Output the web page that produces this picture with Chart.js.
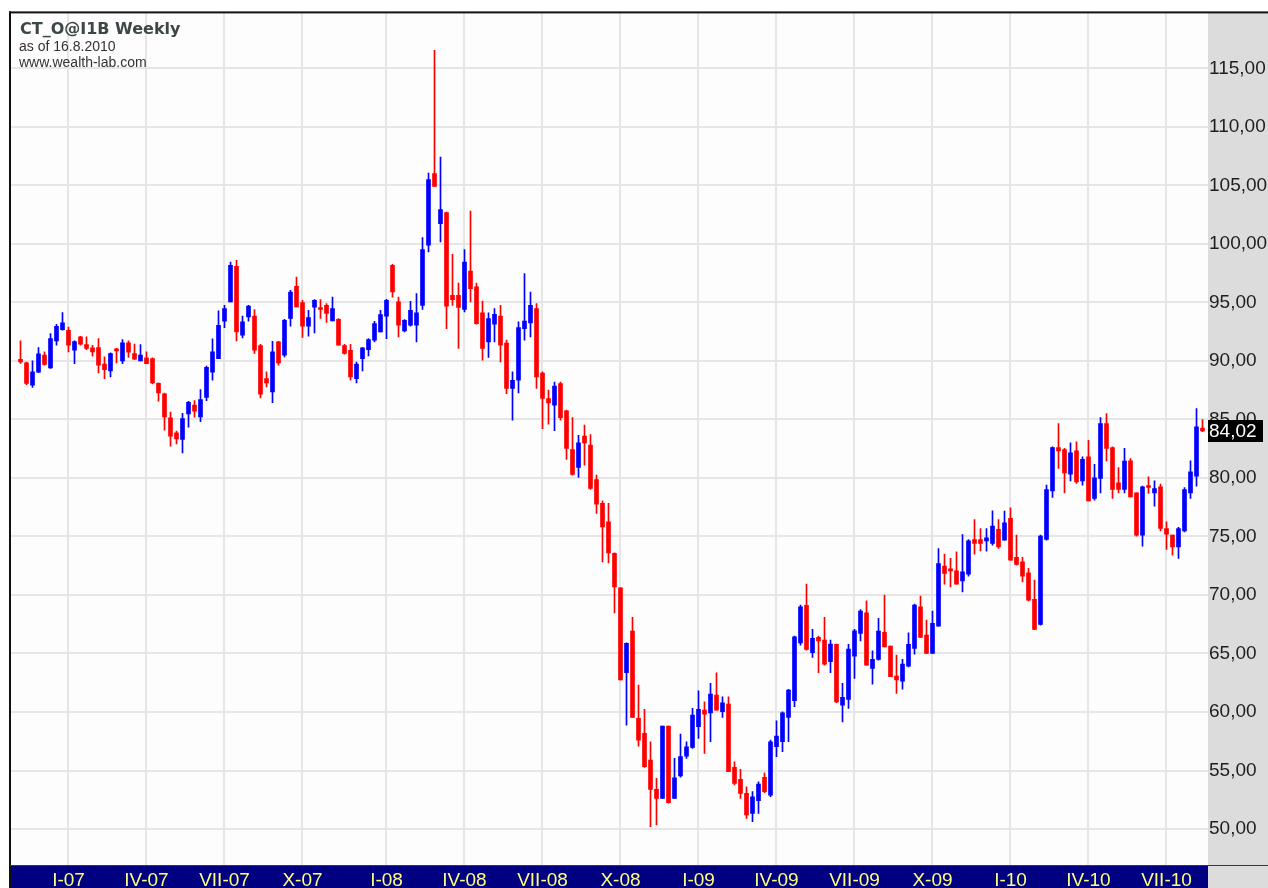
<!DOCTYPE html>
<html>
<head>
<meta charset="utf-8">
<title>CT_O@I1B Weekly</title>
<script src="https://cdn.jsdelivr.net/npm/chart.js@4.4.1/dist/chart.umd.min.js"></script>
<style>
  html, body { margin: 0; padding: 0; background: #ffffff; overflow: hidden; }
  #wrap { width: 1268px; height: 888px; }
</style>
</head>
<body>
<div id="wrap"><canvas id="c" width="1268" height="888"></canvas></div>
<script>
// ---- Data (weekly bars, first bar = week of 6.11.2006, last = week of 16.8.2010) ----
const firstWeek = '2006-11-06';
const open = [
  90.14,89.83,87.92,89.03,90.49,89.40,91.71,92.68,92.62,90.91,
  92.05,91.40,91.11,91.14,89.72,89.15,91.03,90.00,91.54,90.63,
  90.00,90.26,90.20,88.09,87.18,85.14,83.86,83.29,85.48,86.22,
  85.22,86.89,89.03,90.20,93.39,95.04,98.08,92.19,93.76,93.82,
  91.31,88.49,87.35,91.62,90.48,93.62,96.38,94.99,92.96,94.60,
  94.50,94.75,93.41,93.56,91.31,90.91,88.49,90.20,90.97,91.77,
  92.47,93.82,98.17,95.04,92.56,93.05,93.05,94.75,99.88,106.00,
  101.73,102.67,95.61,95.61,94.39,97.68,96.32,94.10,91.62,93.13,
  93.82,91.53,87.64,88.35,92.76,93.24,94.47,88.97,86.79,86.21,
  88.07,85.73,82.43,80.89,83.57,82.80,79.87,77.82,76.25,73.55,
  70.61,63.35,66.91,59.45,58.17,55.89,53.39,52.62,58.80,52.62,
  54.53,56.23,56.98,58.74,60.16,59.93,61.44,60.02,60.68,55.27,
  54.24,53.05,51.34,52.42,54.42,52.90,57.03,57.46,59.54,60.96,
  65.91,69.11,65.06,66.37,66.14,64.29,65.78,60.59,61.08,64.78,
  66.71,68.47,63.73,64.49,66.80,65.63,63.06,62.64,63.92,65.43,
  68.99,66.57,65.01,67.34,72.46,72.23,72.06,71.21,71.78,74.74,
  74.74,74.62,74.40,75.60,74.68,76.54,73.21,72.83,71.89,69.62,
  67.48,74.74,78.89,82.60,82.43,80.32,82.31,79.75,81.80,78.25,
  79.95,84.65,82.60,79.58,79.01,81.46,78.72,75.11,79.30,78.72,
  79.24,75.68,75.11,74.11,75.48,78.72,80.15,84.25
];
const high = [
  91.71,89.90,90.00,91.14,90.77,92.34,93.13,94.13,92.90,91.71,
  92.11,92.05,91.34,91.91,90.35,90.69,91.08,91.83,91.71,91.43,
  91.40,90.77,90.26,88.12,87.26,85.62,84.00,85.51,86.55,86.61,
  87.55,89.55,91.88,94.27,94.75,98.45,98.60,93.82,94.75,94.39,
  91.42,89.06,91.68,91.68,93.56,96.04,97.17,95.18,94.33,95.24,
  95.24,94.90,95.46,93.62,91.42,91.42,89.91,91.14,91.91,93.39,
  94.33,95.27,98.25,95.45,93.53,95.10,95.75,100.54,106.05,116.53,
  107.42,102.72,99.11,96.66,99.51,102.81,96.66,95.12,94.10,94.47,
  94.75,91.77,89.06,93.33,97.46,95.89,94.90,89.06,87.50,88.20,
  88.20,85.79,85.16,83.65,84.51,83.71,80.24,78.04,77.82,73.60,
  70.64,65.91,68.08,62.30,60.22,57.46,54.33,58.80,58.80,56.04,
  58.11,57.46,60.31,61.81,60.87,62.44,63.35,61.30,61.30,55.75,
  55.10,53.61,53.19,54.04,54.81,57.60,59.25,60.02,61.93,66.48,
  69.13,70.93,67.06,66.48,68.08,66.14,65.80,62.44,65.78,67.06,
  68.76,69.50,65.23,68.00,70.00,65.63,64.86,64.49,66.77,69.22,
  69.90,67.85,68.62,73.97,73.49,73.12,73.68,75.17,74.74,76.45,
  75.68,75.68,77.19,76.45,77.16,77.44,75.11,73.21,72.27,71.27,
  75.11,79.38,82.65,84.65,82.52,82.99,83.08,81.80,83.22,81.17,
  85.16,85.50,82.65,80.89,82.52,81.66,78.72,79.30,80.09,79.75,
  79.47,76.25,75.11,75.77,79.18,81.46,85.93,84.99
];
const low = [
  89.78,87.98,87.73,89.00,89.63,89.35,91.34,92.62,90.77,89.77,
  91.34,90.97,90.40,88.97,88.49,88.63,89.83,89.77,90.29,90.12,
  90.00,89.77,88.03,86.55,84.08,82.71,82.91,82.13,84.33,85.20,
  84.80,86.61,88.35,90.20,92.85,95.04,91.71,91.96,93.39,90.63,
  86.84,87.78,86.44,89.63,90.34,92.96,94.61,92.00,92.11,92.39,
  93.62,93.28,93.41,91.34,90.57,88.35,88.12,89.14,90.42,91.62,
  92.47,91.91,95.45,92.05,92.47,92.96,91.62,94.39,99.31,104.92,
  100.16,92.76,94.75,91.06,94.18,95.04,93.13,90.06,90.29,91.62,
  89.91,87.21,84.93,87.26,91.77,92.05,87.64,84.22,84.60,84.04,
  84.93,81.58,80.24,80.04,81.09,79.01,76.96,72.83,72.74,68.47,
  62.73,58.88,59.54,57.09,55.27,50.20,50.34,52.62,52.20,52.62,
  54.42,56.04,56.89,57.75,56.47,57.46,60.16,59.54,54.89,53.76,
  52.62,50.91,50.62,51.34,53.10,52.76,56.18,56.60,57.46,60.45,
  65.72,65.29,64.66,63.35,64.01,63.35,60.79,59.16,60.31,62.87,
  66.08,64.01,62.38,64.43,65.57,63.01,61.59,61.96,63.86,64.95,
  66.37,65.01,65.01,67.34,70.93,70.69,70.93,70.27,71.61,73.49,
  73.77,73.74,74.26,73.97,74.68,72.98,72.55,71.12,69.50,67.06,
  67.42,74.68,78.33,80.81,78.72,79.75,79.53,79.38,78.04,78.10,
  78.72,81.46,78.25,78.72,78.72,78.38,75.03,74.17,78.67,77.59,
  75.48,73.89,73.40,73.12,75.39,78.25,79.30,83.95
];
const close = [
  89.91,88.07,89.06,90.60,89.69,91.91,92.96,93.25,91.34,91.66,
  91.43,91.06,90.77,89.63,89.26,90.63,90.86,91.54,90.74,90.14,
  90.49,89.77,88.12,87.26,85.22,83.57,83.34,85.08,86.47,85.71,
  86.69,89.46,90.77,93.05,94.47,98.17,92.47,93.33,94.69,90.91,
  87.15,88.12,90.77,89.83,93.47,95.89,94.61,92.96,93.70,95.18,
  94.39,94.05,94.47,91.34,90.63,88.63,89.72,91.11,91.83,93.19,
  93.96,95.18,95.89,93.05,93.47,94.33,94.10,99.51,105.49,104.92,
  102.93,94.67,95.24,94.56,98.45,96.18,93.19,91.06,93.62,93.99,
  91.34,87.64,88.35,92.85,93.41,94.75,88.63,86.79,86.41,87.84,
  85.16,82.52,80.29,83.00,83.00,79.10,77.76,75.82,73.60,70.69,
  62.73,65.86,59.54,57.60,55.32,53.39,52.62,58.80,52.25,54.38,
  56.18,57.03,59.74,60.22,59.82,61.53,60.16,60.79,54.89,53.90,
  53.05,51.20,52.76,53.84,53.19,57.46,57.94,59.93,61.87,66.42,
  68.99,65.35,66.29,66.08,64.09,65.80,60.85,61.25,65.37,66.94,
  68.62,64.01,64.49,66.91,65.57,63.01,62.73,64.09,65.78,69.13,
  66.37,65.01,67.57,72.69,71.84,72.06,70.93,71.98,74.62,74.40,
  74.40,74.88,75.88,74.11,76.16,72.98,72.61,71.61,69.56,67.06,
  75.03,79.01,82.60,82.31,80.43,82.14,79.66,81.58,78.04,80.00,
  84.65,82.52,79.01,79.01,81.43,78.38,75.11,79.24,79.18,79.10,
  75.68,75.20,74.11,75.68,79.01,80.52,84.36,84.02
];
// quarter tick labels (bar index, 1-based) on the time axis
const quarterBars   = [9, 22, 35, 48, 62, 75, 88, 101, 114, 127, 140, 153, 166, 179, 192];
const quarterLabels = ['I-07','IV-07','VII-07','X-07','I-08','IV-08','VII-08','X-08',
                       'I-09','IV-09','VII-09','X-09','I-10','IV-10','VII-10'];
const priceTicks = [50, 55, 60, 65, 70, 75, 80, 85, 90, 95, 100, 105, 110, 115];
const titleText = 'CT_O@I1B Weekly';
const asOfText = 'as of 16.8.2010';
const siteText = 'www.wealth-lab.com';

// ---- helpers ----
const UP = '#0000ff', DOWN = '#ff0000';
const isUp = i => close[i] >= open[i];
const fmt = v => v.toFixed(2).replace('.', ',');
const weeks = open.map((_, i) => {
  const d = new Date(firstWeek + 'T00:00:00Z');
  d.setUTCDate(d.getUTCDate() + 7 * i);
  return d.getUTCDate() + '.' + (d.getUTCMonth() + 1) + '.' + d.getUTCFullYear();
});

const bodyData = open.map((o, i) => ({ x: i + 1, y: [o, close[i]] }));
const wickData = open.map((o, i) => ({ x: i + 1, y: [low[i], high[i]] }));

const FONT = "'Liberation Sans', Arial, sans-serif";

const framePlugin = {
  id: 'frame',
  beforeDraw(chart) {
    const ctx = chart.ctx, a = chart.chartArea;
    ctx.save();
    ctx.fillStyle = '#ffffff';
    ctx.fillRect(0, 0, chart.width, chart.height);
    ctx.fillStyle = '#fdfdfd';
    ctx.fillRect(a.left, a.top, a.right - a.left, a.bottom - a.top);
    // right price panel
    ctx.fillStyle = '#dcdcdc';
    ctx.fillRect(a.right, a.top, chart.width - a.right, chart.height - a.top);
    // bottom date band
    ctx.fillStyle = '#000080';
    ctx.fillRect(a.left, a.bottom, a.right - a.left, chart.height - a.bottom);
    ctx.restore();
  },
  afterDraw(chart) {
    const ctx = chart.ctx, a = chart.chartArea, ys = chart.scales.y;
    ctx.save();
    // frame lines
    ctx.fillStyle = '#111111';
    ctx.fillRect(a.left - 1, a.top - 1, chart.width - a.left + 1, 2);
    ctx.fillRect(a.left - 1, a.top - 1, 2, chart.height - a.top + 1);
    ctx.fillStyle = '#3a3a3a';
    ctx.fillRect(a.left, a.bottom - 1, chart.width - a.left, 1);
    // titles
    ctx.textAlign = 'left';
    ctx.textBaseline = 'alphabetic';
    ctx.fillStyle = '#3c4848';
    ctx.font = "bold 16px 'DejaVu Sans', sans-serif";
    ctx.fillText(titleText, 20, 34);
    ctx.fillStyle = '#333333';
    ctx.font = '14px ' + FONT;
    ctx.fillText(asOfText, 19, 51);
    ctx.fillText(siteText, 19, 67);
    // last price marker
    const last = close[close.length - 1];
    const py = ys.getPixelForValue(last);
    ctx.fillStyle = '#000000';
    ctx.fillRect(a.right, Math.round(py) - 11, 55, 22);
    ctx.fillStyle = '#ffffff';
    ctx.font = '19px ' + FONT;
    ctx.textBaseline = 'middle';
    ctx.fillText(fmt(last), a.right + 1, py + 1);
    ctx.restore();
  }
};

new Chart(document.getElementById('c'), {
  type: 'bar',
  data: {
    datasets: [
      {
        label: 'body',
        data: bodyData,
        order: 0,
        grouped: false,
        barThickness: 4,
        minBarLength: 2,
        borderWidth: 0,
        backgroundColor: c => isUp(c.dataIndex) ? UP : DOWN
      },
      {
        label: 'range',
        data: wickData,
        order: 1,
        grouped: false,
        barThickness: 1,
        minBarLength: 1,
        borderWidth: 0,
        backgroundColor: c => isUp(c.dataIndex) ? UP : DOWN
      }
    ]
  },
  options: {
    responsive: false,
    devicePixelRatio: 1,
    animation: false,
    layout: { padding: { top: 12, left: 10, right: 0, bottom: 0 } },
    plugins: {
      legend: { display: false },
      title: { display: false },
      tooltip: {
        callbacks: {
          title: items => weeks[items[0].dataIndex],
          label: item => {
            const i = item.dataIndex;
            return 'O ' + fmt(open[i]) + '  H ' + fmt(high[i]) + '  L ' + fmt(low[i]) + '  C ' + fmt(close[i]);
          }
        }
      }
    },
    scales: {
      x: {
        type: 'linear',
        position: 'bottom',
        offset: false,
        min: -0.75,
        max: 198.9167,
        grid: { offset: false, color: '#e6e6e6', lineWidth: 2, drawTicks: false },
        border: { display: false },
        afterBuildTicks: s => { s.ticks = quarterBars.map(v => ({ value: v })); },
        afterFit: s => { s.height = 22; },
        ticks: {
          autoSkip: false,
          maxRotation: 0,
          minRotation: 0,
          padding: 3,
          color: '#ffff80',
          font: { family: FONT, size: 19 },
          callback: v => quarterLabels[quarterBars.indexOf(v)]
        }
      },
      y: {
        type: 'linear',
        position: 'right',
        min: 46.84,
        max: 119.78,
        grid: { color: '#e6e6e6', lineWidth: 2, drawTicks: false },
        border: { display: false },
        afterBuildTicks: s => { s.ticks = priceTicks.map(v => ({ value: v })); },
        afterFit: s => { s.width = 60; },
        ticks: {
          padding: 1,
          color: '#1e1e1e',
          font: { family: FONT, size: 19 },
          callback: v => fmt(v)
        }
      }
    }
  },
  plugins: [framePlugin]
});
</script>
</body>
</html>
